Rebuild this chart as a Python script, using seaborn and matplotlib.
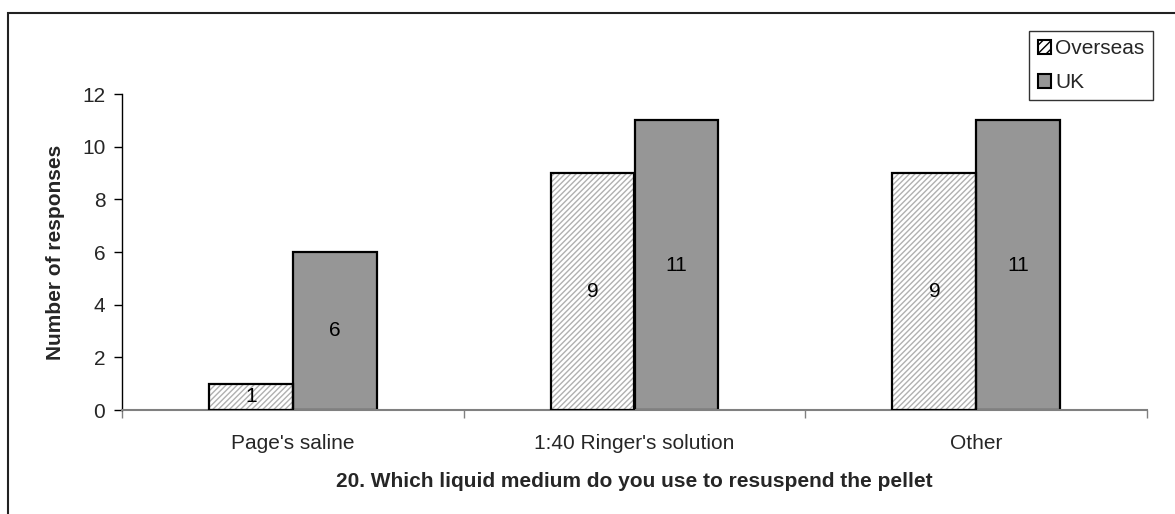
import matplotlib
matplotlib.use("Agg")
import matplotlib.pyplot as plt
import seaborn as sns
import pandas as pd
from matplotlib.patches import Rectangle, Patch

categories = ["Page's saline", "1:40 Ringer's solution", "Other"]
series = ["Overseas", "UK"]
overseas = [1, 9, 9]
uk = [6, 11, 11]
yticks = [0, 2, 4, 6, 8, 10, 12]

df = pd.DataFrame({
    "cat": categories * 2,
    "grp": ["Overseas"] * 3 + ["UK"] * 3,
    "val": overseas + uk,
})

sns.set_theme(style="white")
plt.rcParams['font.family'] = ['Liberation Sans', 'DejaVu Sans']
FS = 15

fig = plt.figure(figsize=(11.75, 5.14), dpi=100)
ax = fig.add_axes([122/1175, 1-410/514, (1147-122)/1175, (410-94)/514])

sns.barplot(data=df, x="cat", y="val", hue="grp", order=categories,
            hue_order=series, palette={"Overseas": "white", "UK": "#969696"},
            width=0.49, gap=0, ax=ax, legend=False, saturation=1)

n = len(categories)
patches = [p for p in ax.patches]
over_patches = patches[:n]
uk_patches = patches[n:2*n]
for p in over_patches:
    p.set_facecolor("white")
    p.set_hatch("//////")
    p.set_edgecolor("#b0b0b0")
    p.set_linewidth(0)
    ax.add_patch(Rectangle((p.get_x(), p.get_y()), p.get_width(), p.get_height(),
                           fill=False, edgecolor="black", linewidth=1.6, zorder=3))
for p in uk_patches:
    p.set_edgecolor("black")
    p.set_linewidth(1.6)

for container, vals in zip(ax.containers, [overseas, uk]):
    for p, v in zip(container, vals):
        ax.text(p.get_x() + p.get_width()/2, p.get_y() + p.get_height()/2, str(v),
                ha="center", va="center", fontsize=FS, color="black", zorder=4)

ax.set_ylim(0, 12)
ax.set_xlim(-0.5, n - 0.5)
ax.set_yticks(yticks)
ax.set_yticklabels([str(t) for t in yticks], fontsize=FS)
ax.set_xticks([i - 0.5 for i in range(n + 1)], minor=False)
ax.set_xticklabels([""] * (n + 1))
ax.set_xticks(range(n), minor=True)
ax.set_xticklabels(categories, minor=True, fontsize=FS)
ax.tick_params(axis="x", which="minor", length=0, pad=17)
ax.tick_params(axis="x", which="major", length=6, color="#808080", direction="out", width=1)
ax.tick_params(axis="y", length=6, color="black", direction="out", width=1, pad=6)
ax.tick_params(axis="both", bottom=True, left=True)

for s in ["top", "right"]:
    ax.spines[s].set_visible(False)
ax.spines["left"].set_color("black")
ax.spines["left"].set_linewidth(1)
ax.spines["bottom"].set_color("#808080")
ax.spines["bottom"].set_linewidth(1.5)

ax.set_ylabel("Number of responses", fontsize=FS, fontweight="bold", labelpad=12)
ax.set_xlabel("20. Which liquid medium do you use to resuspend the pellet",
              fontsize=FS, fontweight="bold", labelpad=14)

handles = [Patch(facecolor="white", edgecolor="black", hatch="////", linewidth=1.5, label="Overseas"),
           Patch(facecolor="#969696", edgecolor="black", linewidth=1.5, label="UK")]
leg = fig.legend(handles=handles, loc="upper right", bbox_to_anchor=(1153/1175, 1-31/514),
                 fontsize=FS, frameon=True, fancybox=False, handlelength=0.65, handleheight=0.65,
                 handletextpad=0.2, borderpad=0.4, labelspacing=0.7, borderaxespad=0)
leg.get_frame().set_edgecolor("black")
leg.get_frame().set_linewidth(1)

fig.patches.append(Rectangle((8/1175, -0.1), 1.2, 1.1 - 13/514, transform=fig.transFigure,
                             fill=False, edgecolor="#222222", linewidth=1.5, figure=fig))

fig.savefig("out.png", dpi=100)
